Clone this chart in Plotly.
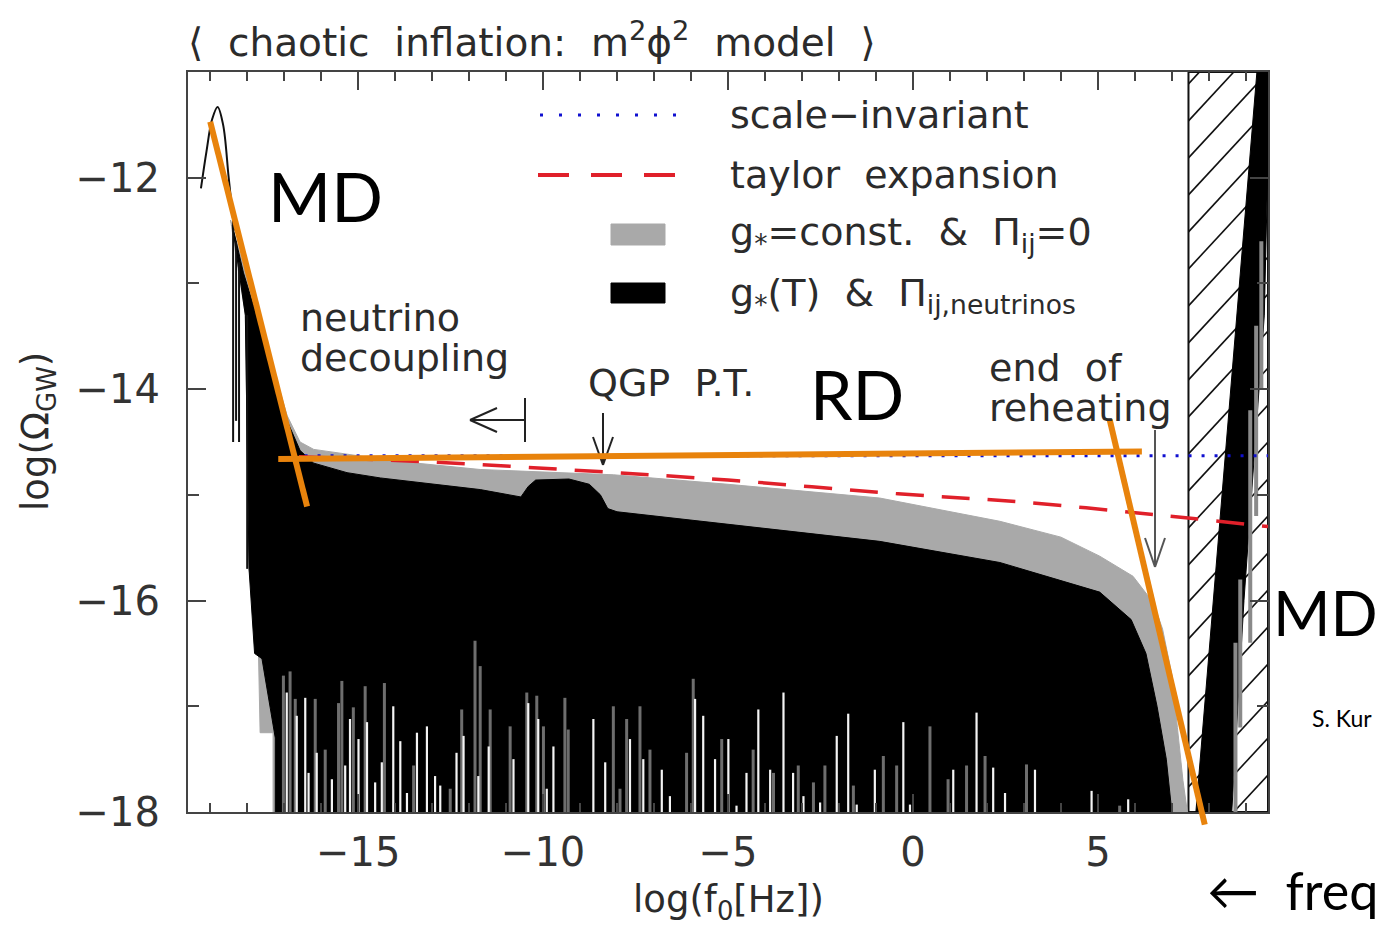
import plotly.graph_objects as go

# ---------------- data (log10 f0[Hz], log10 Omega_GW) ----------------
X_RANGE = [-19.6, 9.6]
Y_RANGE = [-18.0, -11.0]

x_tickvals = [-15, -10, -5, 0, 5]
y_tickvals = [-18, -16, -14, -12]

scale_invariant_logf = [-16.8, 9.6]
scale_invariant_logomega = [-14.63, -14.63]

taylor_logf = [-16.6, -13.0, -8.5, -5.0, -0.4, 3.0, 6.9, 9.6]
taylor_logomega = [-14.64, -14.69, -14.78, -14.86, -14.99, -15.07, -15.20, -15.30]

# g*=const & Pi_ij=0 (grey band): upper envelope
gconst_logf = [-18.45, -18.1, -17.84, -17.46, -16.92, -16.57, -16.2, -14.0, -11.7, -8.1,
               -5.0, -0.9, 2.35, 4.0, 5.05, 5.95, 6.5, 6.75, 7.0, 7.15, 7.3, 7.42]
gconst_logomega = [-12.4, -12.85, -13.16, -13.6, -14.25, -14.5, -14.57, -14.68, -14.76, -14.81,
                   -14.9, -15.03, -15.25, -15.4, -15.58, -15.77, -16.02, -16.27, -16.7, -17.2, -17.7, -18.0]
gconst_left_logf = [-17.3, -17.3, -17.65, -17.7, -17.95, -18.05]
gconst_left_logomega = [-18.0, -17.25, -17.25, -16.4, -15.7, -13.3]

# g*(T) & Pi_ij,neutrinos (black band): upper envelope
gT_logf = [-18.4, -18.1, -17.84, -17.46, -16.92, -16.57, -16.2, -15.3, -14.4, -11.7, -10.6,
           -10.4, -10.2, -9.3, -8.75, -8.45, -8.25, -8.0, -5.0, -0.9, 2.35, 4.2, 5.05, 5.9,
           6.3, 6.6, 6.85, 7.0]
gT_logomega = [-12.45, -12.9, -13.2, -13.65, -14.3, -14.58, -14.7, -14.79, -14.84, -14.95, -15.02,
               -14.92, -14.86, -14.85, -14.9, -15.0, -15.13, -15.16, -15.28, -15.44, -15.64, -15.83,
               -15.92, -16.18, -16.5, -17.0, -17.5, -18.0]
gT_left_logf = [-17.24, -17.24, -17.6, -17.8, -17.95, -18.05]
gT_left_logomega = [-18.0, -17.3, -16.55, -16.5, -15.7, -13.3]

# first (matter dominated) peak drawn as a thin line, plus oscillation strokes
md_peak_logf = [-19.25, -19.1, -18.95, -18.8, -18.65, -18.5, -18.35]
md_peak_logomega = [-12.1, -11.75, -11.45, -11.33, -11.5, -12.0, -12.5]
md_osc_logf = [-18.38, -18.3, -18.22, -18.0]
md_osc_top = [-12.4, -12.6, -12.8, -13.3]
md_osc_bottom = [-14.5, -14.3, -14.5, -15.7]

# oscillation minima: white spikes at the bottom of the band
white_spike_logf = [-16.93, -16.66, -16.43, -16.34, -16.12, -15.71, -15.35, -15.22, -14.99, -14.76,
                    -14.54, -14.36, -14.05, -13.86, -13.68, -13.41, -13.14, -12.92, -12.78, -12.34,
                    -12.15, -11.75, -11.47, -10.8, -10.4, -10.13, -9.9, -9.72, -8.64, -8.32,
                    -7.65, -7.29, -6.79, -6.57, -5.89, -5.67, -5.35, -4.99, -4.77, -4.5,
                    -4.18, -3.86, -3.5, -3.24, -2.96, -2.51, -2.06, -1.75, -1.52, -1.03,
                    -0.26, -0.08, 1.09, 1.72, 2.17, 2.49, 3.3, 4.83, 5.82]
white_spike_top = [-16.87, -17.09, -16.92, -17.63, -17.44, -17.69, -17.56, -17.12, -17.31, -17.15,
                   -17.72, -17.53, -17.0, -17.33, -17.82, -17.25, -17.19, -17.66, -17.75, -17.44,
                   -17.28, -17.66, -17.38, -17.5, -16.97, -17.12, -17.78, -17.38, -17.12, -17.53,
                   -17.31, -17.5, -17.6, -17.85, -16.93, -17.09, -17.5, -17.31, -17.94, -17.63,
                   -17.03, -17.6, -16.87, -17.63, -17.85, -17.91, -17.28, -17.07, -17.93, -17.6,
                   -17.15, -17.93, -17.6, -17.06, -17.58, -17.82, -17.6, -17.8, -17.88]
# ... and darker grey spikes
grey_spike_logf = [-17.02, -16.84, -16.7, -16.16, -15.89, -15.53, -15.44, -15.13, -14.81, -14.29,
                   -13.5, -12.51, -12.2, -11.84, -11.7, -11.43, -10.89, -10.44, -10.17, -9.99,
                   -9.41, -9.32, -8.1, -7.92, -7.74, -7.38, -7.11, -6.12, -5.94, -5.17,
                   -4.32, -3.77, -3.1, -2.69, -2.38, -1.61, -0.8, -0.44, 0.46, 0.95,
                   1.45, 1.95, 3.07, 5.59]
grey_spike_top = [-16.71, -16.67, -16.93, -16.93, -17.41, -16.97, -16.76, -17.01, -16.81, -16.78,
                  -17.56, -17.78, -17.03, -16.38, -16.62, -17.03, -17.19, -16.87, -16.9, -17.19,
                  -16.92, -17.22, -17.0, -17.78, -17.12, -17.0, -17.41, -17.44, -16.74, -17.31,
                  -17.41, -17.63, -17.56, -17.72, -17.56, -17.75, -17.47, -17.56, -17.19, -17.69,
                  -17.56, -17.47, -17.55, -17.94]

# excluded (hatched) frequency band and the spectrum rising inside it
excluded_logf = [7.45, 9.6]
wedge_logf = [7.65, 9.3, 9.6, 9.6, 9.5, 8.95, 8.62]
wedge_logomega = [-18.0, -11.0, -11.0, -11.8, -13.3, -16.0, -18.0]
wedge_strip_logf = [9.12, 9.28, 9.42, 8.72, 8.85]
wedge_strip_top = [-14.2, -13.4, -12.6, -16.4, -15.8]
wedge_strip_bottom = [-16.4, -15.2, -14.0, -18.0, -17.2]

# slide overlay: orange guide lines (data coordinates)
orange_segments = [
    ((-19.0, -11.47), (-16.38, -15.11)),
    ((-17.16, -14.66), (6.19, -14.59)),
    ((5.32, -14.29), (7.89, -18.12)),
]

# ---------------- figure ----------------
OFF = 8                      # page body margin
W, H = 1376, 920
L, T, R, B = 180, 64, 116, 116
PW, PH = W - L - R, H - T - B
PX_PER_X = PW / (X_RANGE[1] - X_RANGE[0])
PX_PER_Y = PH / (Y_RANGE[1] - Y_RANGE[0])


def P(px, py):
    """screen pixel position -> paper coordinates"""
    fx, fy = px - OFF, py - OFF
    return (fx - L) / PW, (H - B - fy) / PH


def D2P(x, y):
    return ((x - X_RANGE[0]) / (X_RANGE[1] - X_RANGE[0]),
            (y - Y_RANGE[0]) / (Y_RANGE[1] - Y_RANGE[0]))


fig = go.Figure()

# hatched band: white background, hatch lines at ~47 degrees, left border
x0b, x1b = excluded_logf
fig.add_trace(go.Scatter(
    x=[x0b, x1b, x1b, x0b, x0b], y=[Y_RANGE[0], Y_RANGE[0], Y_RANGE[1], Y_RANGE[1], Y_RANGE[0]],
    mode="lines", fill="toself", fillcolor="white", line=dict(color="#111", width=2),
    hoverinfo="skip", showlegend=False))
slope = 1.08 * PX_PER_X / PX_PER_Y          # data-units slope giving the screen angle
spacing = 37 / PX_PER_Y
hx, hy = [], []
y_start = Y_RANGE[0] - slope * (x1b - x0b)
k = 0
while y_start + k * spacing < Y_RANGE[1]:
    yy = y_start + k * spacing
    hx += [x0b, x1b, None]
    hy += [yy, yy + slope * (x1b - x0b), None]
    k += 1
fig.add_trace(go.Scatter(x=hx, y=hy, mode="lines", line=dict(color="#111", width=1.6),
                         hoverinfo="skip", showlegend=False))

# grey band
fig.add_trace(go.Scatter(x=gconst_left_logf + gconst_logf, y=gconst_left_logomega + gconst_logomega,
                         mode="lines", fill="toself", fillcolor="#a9a9a9",
                         line=dict(color="#a9a9a9", width=1), name="g*=const. & Π_ij=0",
                         showlegend=False))

# black band
fig.add_trace(go.Scatter(x=gT_left_logf + gT_logf, y=gT_left_logomega + gT_logomega,
                         mode="lines", fill="toself", fillcolor="#000000",
                         line=dict(color="#000000", width=1), name="g*(T) & Π_ij,neutrinos",
                         showlegend=False))


def spikes(xs, tops, bottom=Y_RANGE[0]):
    sx, sy = [], []
    for xv, tv in zip(xs, tops):
        sx += [xv, xv, None]
        sy += [bottom, tv, None]
    return sx, sy


sx, sy = spikes(grey_spike_logf, grey_spike_top)
fig.add_trace(go.Scatter(x=sx, y=sy, mode="lines", line=dict(color="#6e6e6e", width=3),
                         hoverinfo="skip", showlegend=False))
sx, sy = spikes(white_spike_logf, white_spike_top)
fig.add_trace(go.Scatter(x=sx, y=sy, mode="lines", line=dict(color="#f4f4f4", width=2.2),
                         hoverinfo="skip", showlegend=False))

# MD peak line & oscillation strokes
fig.add_trace(go.Scatter(x=md_peak_logf, y=md_peak_logomega, mode="lines",
                         line=dict(color="#111", width=2), showlegend=False, line_shape="spline"))
ox, oy = [], []
for xv, t, b in zip(md_osc_logf, md_osc_top, md_osc_bottom):
    ox += [xv, xv, None]
    oy += [t, b, None]
fig.add_trace(go.Scatter(x=ox, y=oy, mode="lines", line=dict(color="#111", width=2),
                         showlegend=False))

# wedge inside the hatched band
fig.add_trace(go.Scatter(x=wedge_logf, y=wedge_logomega, mode="lines", fill="toself",
                         fillcolor="#000", line=dict(color="#000", width=1), showlegend=False))
wx, wy = [], []
for xv, t, b in zip(wedge_strip_logf, wedge_strip_top, wedge_strip_bottom):
    wx += [xv, xv, None]
    wy += [t, b, None]
fig.add_trace(go.Scatter(x=wx, y=wy, mode="lines", line=dict(color="#8a8a8a", width=4),
                         showlegend=False))

# model lines
fig.add_trace(go.Scatter(x=scale_invariant_logf, y=scale_invariant_logomega, mode="lines",
                         line=dict(color="#1010d0", width=3, dash="3px,10px"),
                         name="scale-invariant", showlegend=False))
fig.add_trace(go.Scatter(x=taylor_logf, y=taylor_logomega, mode="lines",
                         line=dict(color="#e0202a", width=3.5, dash="28px,18px"),
                         name="taylor expansion", showlegend=False, line_shape="spline"))

FONT = "DejaVu Sans"
TXT = "#2b2b2b"
BIG = "Lato"

ann = []


def text(px, py, s, size=38, anchor="left", font=FONT, color=TXT, angle=0):
    x, y = P(px, py)
    ann.append(dict(x=x, y=y, xref="paper", yref="paper", text=s, showarrow=False,
                    xanchor=anchor, yanchor="middle", textangle=angle,
                    font=dict(family=font, size=size, color=color)))


text(186, 40, "⟨  chaotic  inflation:  m<sup>2</sup>ϕ<sup>2</sup>  model  ⟩", size=39)
text(728, 115, "scale−invariant", size=38)
text(728, 175, "taylor  expansion", size=38)
text(728, 235, "g<sub>*</sub>=const.  &amp;  Π<sub>ij</sub>=0", size=38)
text(728, 295, "g<sub>*</sub>(T)  &amp;  Π<sub>ij,neutrinos</sub>", size=38)
text(298, 318, "neutrino", size=38)
text(298, 358, "decoupling", size=38)
text(586, 383, "QGP  P.T.", size=38)
text(987, 368, "end  of", size=38)
text(987, 408, "reheating", size=38)
text(325, 196, "MD", size=68, anchor="center", font=BIG, color="#000")
text(857, 393, "RD", size=68, anchor="center", font=BIG, color="#000")
text(1380, 612, "MD", size=62, anchor="right", font=BIG, color="#000")
text(1310, 718, "S. Kur", size=23, anchor="left", font=BIG, color="#000")
text(1380, 890, "←  freq", size=52, anchor="right", font=BIG, color="#000")

# axis titles
text(728, 902, "log(f<sub>0</sub>[Hz])", size=37, anchor="center")
text(38, 432, "log(Ω<sub>GW</sub>)", size=37, anchor="center", angle=-90)

shapes = []


def seg(x0, y0, x1, y1, color="#222", width=2, dash=None):
    a = P(x0, y0)
    b = P(x1, y1)
    ln = dict(color=color, width=width)
    if dash:
        ln["dash"] = dash
    shapes.append(dict(type="line", xref="paper", yref="paper", x0=a[0], y0=a[1],
                       x1=b[0], y1=b[1], line=ln))


# neutrino decoupling arrow  <-|
seg(470, 420, 525, 420)
seg(470, 420, 497, 408)
seg(470, 420, 497, 432)
seg(525, 398, 525, 442)
# QGP arrow
seg(603, 413, 603, 465)
seg(603, 465, 593, 437)
seg(603, 465, 613, 437)
# end of reheating arrow
seg(1155, 430, 1155, 567, color="#555")
seg(1155, 567, 1145, 538, color="#555")
seg(1155, 567, 1165, 538, color="#555")

# legend keys
seg(540, 115, 676, 115, color="#1010d0", width=3, dash="3px,16px")
seg(538, 175, 676, 175, color="#e0202a", width=4, dash="31px,22px")
for top, bot, col in ((224, 245, "#a9a9a9"), (283, 303, "#000")):
    a0 = P(611, top)
    a1 = P(665, bot)
    shapes.append(dict(type="rect", xref="paper", yref="paper", x0=a0[0], y0=a0[1],
                       x1=a1[0], y1=a1[1], fillcolor=col, line=dict(color=col, width=1)))

# orange slide overlay
for (x0, y0), (x1, y1) in orange_segments:
    p0 = D2P(x0, y0)
    p1 = D2P(x1, y1)
    shapes.append(dict(type="line", xref="paper", yref="paper", x0=p0[0], y0=p0[1],
                       x1=p1[0], y1=p1[1], line=dict(color="#e8830c", width=6), layer="above"))

axis_common = dict(showline=True, linecolor="#444", linewidth=2, mirror="allticks",
                   ticks="inside", tickwidth=2, tickcolor="#444", ticklen=18,
                   showgrid=False, zeroline=False,
                   tickfont=dict(family=FONT, size=40, color="#333"))

fig.update_layout(
    width=W, height=H, margin=dict(l=L, r=R, t=T, b=B),
    paper_bgcolor="white", plot_bgcolor="white", showlegend=False,
    xaxis=dict(range=X_RANGE, tickvals=x_tickvals, ticklabelstandoff=4,
               minor=dict(ticks="inside", dtick=1, tick0=0, ticklen=9, tickwidth=1.5, tickcolor="#444"),
               **axis_common),
    yaxis=dict(range=Y_RANGE, tickvals=y_tickvals, ticklabelstandoff=18,
               minor=dict(ticks="inside", dtick=1, tick0=-18, ticklen=11, tickwidth=1.5, tickcolor="#444"),
               **axis_common),
    annotations=ann, shapes=shapes,
)

fig.write_html("out.html")
